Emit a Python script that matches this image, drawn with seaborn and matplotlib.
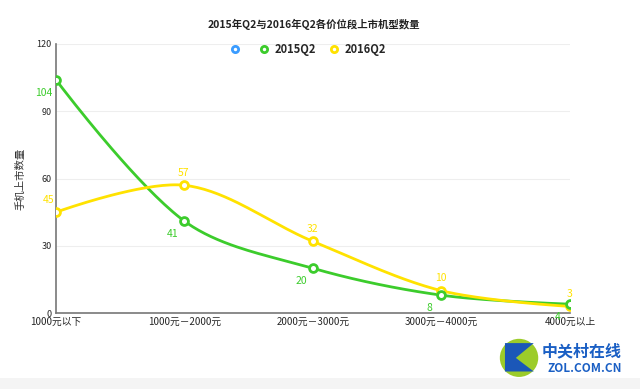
import numpy as np
import pandas as pd
import seaborn as sns
import matplotlib.pyplot as plt
from matplotlib.lines import Line2D
from matplotlib.patches import Rectangle, Ellipse, Polygon

categories = ['1000元以下', '1000元－2000元', '2000元－3000元', '3000元－4000元', '4000元以上']
q2_2015 = [104, 41, 20, 8, 4]
q2_2016 = [45, 57, 32, 10, 3]
yticks = [0, 30, 60, 90, 120]

green = '#3ccc2c'
yellow = '#ffe200'
blue = '#3a9cff'

sns.set_theme(style='white')
plt.rcParams['font.family'] = ['Noto Sans CJK SC', 'DejaVu Sans']

df = pd.DataFrame({'x': range(len(categories)), '2015Q2': q2_2015, '2016Q2': q2_2016})

# pixels per unit, used so the curve is smoothed in screen space
PX_X, PX_Y = 128.5, 2.24


def smooth(xs, ys, k=0.33, n=40):
    # bezier smoothing: control points from neighbours, ends unbent
    p = np.column_stack([np.asarray(xs, float) * PX_X, np.asarray(ys, float) * PX_Y])
    cin, cout = p.copy(), p.copy()
    for i in range(1, len(p) - 1):
        v = (p[i + 1] - p[i - 1]) * k
        d0 = np.linalg.norm(p[i] - p[i - 1])
        d1 = np.linalg.norm(p[i + 1] - p[i])
        cin[i] = p[i] - v * d0 / (d0 + d1)
        cout[i] = p[i] + v * d1 / (d0 + d1)
    t = np.linspace(0, 1, n)[:, None]
    pts = []
    for i in range(len(p) - 1):
        b = ((1 - t)**3 * p[i] + 3 * (1 - t)**2 * t * cout[i]
             + 3 * (1 - t) * t**2 * cin[i + 1] + t**3 * p[i + 1])
        pts.append(b)
    pts = np.vstack(pts)
    return pts[:, 0] / PX_X, pts[:, 1] / PX_Y


fig = plt.figure(figsize=(6.4, 3.89), dpi=100)
ax = fig.add_axes([0.0875, 0.195, 0.803, 0.692])

for col, c in [('2015Q2', green), ('2016Q2', yellow)]:
    sx, sy = smooth(df['x'], df[col])
    sns.lineplot(x=sx, y=sy, ax=ax, color=c, lw=2, sort=False, zorder=3)
for col, c in [('2016Q2', yellow), ('2015Q2', green)]:
    ax.scatter(df['x'], df[col], s=32, facecolor='white', edgecolor=c, linewidth=2, zorder=5)

for i, v in enumerate(q2_2015):
    ax.annotate(str(v), (i, v), xytext=(-8.5, -9.5), textcoords='offset points',
                ha='center', va='center', color=green, fontsize=7.5, zorder=6)
for i, v in enumerate(q2_2016):
    dx = -5 if i == 0 else -0.5
    ax.annotate(str(v), (i, v), xytext=(dx, 9), textcoords='offset points',
                ha='center', va='center', color=yellow, fontsize=7.5, zorder=6)

ax.set_xlim(0, len(categories) - 1)
ax.set_ylim(0, 120)
ax.set_yticks(yticks)
ax.set_yticklabels([str(v) for v in yticks], fontsize=6.5)
ax.set_xticks(range(len(categories)))
ax.set_xticklabels(categories, fontsize=7)
ax.tick_params(axis='both', length=0, pad=3)
ax.grid(axis='y', color='#eeeeee', lw=0.8)
for s in ['top', 'right']:
    ax.spines[s].set_visible(False)
for s in ['left', 'bottom']:
    ax.spines[s].set_color('#777777')
    ax.spines[s].set_linewidth(1.2)
ax.set_xlabel('')
ax.set_ylabel('手机上市数量', fontsize=7.5, color='#333333', labelpad=8)

handles = [Line2D([], [], ls='', marker='o', ms=4.5, mfc='white', mec=blue, mew=2),
           Line2D([], [], ls='', marker='o', ms=4.5, mfc='white', mec=green, mew=2),
           Line2D([], [], ls='', marker='o', ms=4.5, mfc='white', mec=yellow, mew=2)]
leg = ax.legend(handles, ['', '2015Q2', '2016Q2'], ncol=3, loc='center',
                bbox_to_anchor=(0.49, 0.978), frameon=False, handletextpad=0.4,
                handlelength=1.0, columnspacing=1.2, prop={'weight': 'bold', 'size': 8})

fig.text(0.491, 0.936, '2015年Q2与2016年Q2各价位段上市机型数量', ha='center', va='center',
         fontsize=7.5, fontweight='bold', color='#222222')

# bottom band and watermark
fig.patches.append(Rectangle((0, 0), 1, 0.028, transform=fig.transFigure,
                             facecolor='#f4f4f4', edgecolor='none', zorder=0))
fig.patches.append(Ellipse((0.811, 0.08), 0.06, 0.098, transform=fig.transFigure,
                           facecolor='#9ccc2a', edgecolor='none', zorder=1))
fig.patches.append(Polygon([(0.789, 0.045), (0.789, 0.118), (0.834, 0.118),
                            (0.806, 0.08), (0.834, 0.045)],
                           closed=True, transform=fig.transFigure,
                           facecolor='#1b57b8', edgecolor='none', zorder=2))
fig.text(0.972, 0.097, '中关村在线', ha='right', va='center', fontsize=11.5,
         fontweight='bold', color='#1a5fc4')
fig.text(0.972, 0.052, 'ZOL.COM.CN', ha='right', va='center', fontsize=8.5,
         fontweight='bold', color='#1a5fc4')

fig.savefig('out.png', dpi=100)
